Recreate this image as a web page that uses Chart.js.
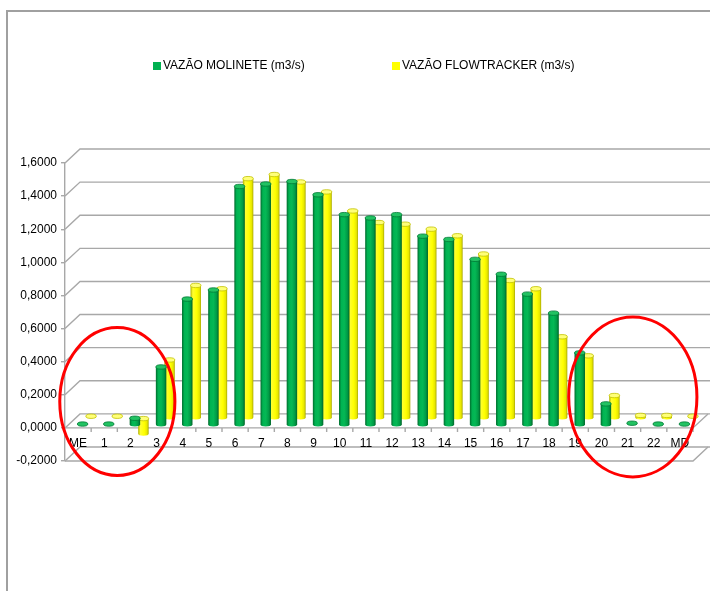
<!DOCTYPE html>
<html>
<head>
<meta charset="utf-8">
<script src="https://cdn.jsdelivr.net/npm/chart.js@4.4.1/dist/chart.umd.min.js"></script>
<style>
  html, body { margin: 0; padding: 0; background: #fff; }
  #wrap { width: 710px; height: 591px; position: relative; }
</style>
</head>
<body>
<div id="wrap"><canvas id="c" width="710" height="591"></canvas></div>
<script>
// Verticais de medição (margem esquerda, 1..22, margem direita)
const categories = ['ME','1','2','3','4','5','6','7','8','9','10','11','12','13','14','15','16','17','18','19','20','21','22','MD'];

// Vazão por vertical (m3/s)
const molinete    = [0.005, 0.005, 0.04, 0.35, 0.76, 0.815, 1.44, 1.455, 1.47, 1.39, 1.27, 1.25, 1.27, 1.14, 1.12, 1.0, 0.91, 0.79, 0.675, 0.435, 0.127, 0.01, 0.005, 0.005];
const flowtracker = [0.01, 0.01, -0.095, 0.35, 0.8, 0.78, 1.445, 1.47, 1.425, 1.365, 1.25, 1.18, 1.17, 1.14, 1.1, 0.99, 0.83, 0.78, 0.49, 0.375, 0.135, 0.015, 0.015, 0.01];

const seriesNames = ['VAZÃO MOLINETE (m3/s)', 'VAZÃO FLOWTRACKER (m3/s)'];
const yTickValues = [-0.2, 0, 0.2, 0.4, 0.6, 0.8, 1.0, 1.2, 1.4, 1.6];

// Regiões destacadas: [primeira vertical, última vertical, valor central, meia-altura em valor]
const highlightLeft  = { from: 1, to: 2, shift: 0,   rxCats: 2.2,  yMid: 0.16,  yHalf: 0.447 };
const highlightRight = { from: 21, to: 21, shift: 0.2, rxCats: 2.45, yMid: 0.187, yHalf: 0.483 };

// Perspectiva 3D
const DEPTH_X = 15, DEPTH_Y = -14;
const ROWS = [ { dx: 4.5, dy: -3 }, { dx: 13, dy: -10 } ];
const GRID = '#a8a8a8';

const PALETTE = [
  { stops: [[0,'#006a2c'],[0.22,'#00b352'],[0.5,'#05b855'],[0.8,'#009a45'],[1,'#006428']], cap: '#22c262', rim: '#007a36' },
  { stops: [[0,'#b0b000'],[0.22,'#ffff30'],[0.6,'#ffff00'],[0.85,'#e6e600'],[1,'#a8a800']], cap: '#ffff78', rim: '#c2c200' }
];

Chart.defaults.font.family = '"Liberation Sans", Arial, sans-serif';
Chart.defaults.font.size = 12;
Chart.defaults.color = '#000';

function drawCylinder(ctx, cx, top, bottom, w, pal) {
  const rx = w / 2, ry = 2.2;
  if (bottom - top > 1.2) {
    const g = ctx.createLinearGradient(cx - rx, 0, cx + rx, 0);
    pal.stops.forEach(s => g.addColorStop(s[0], s[1]));
    ctx.beginPath();
    ctx.moveTo(cx - rx, top);
    ctx.lineTo(cx - rx, bottom);
    ctx.ellipse(cx, bottom, rx, ry, 0, Math.PI, 0, true);
    ctx.lineTo(cx + rx, top);
    ctx.closePath();
    ctx.fillStyle = g;
    ctx.fill();
  }
  ctx.beginPath();
  ctx.ellipse(cx, top, rx, ry, 0, 0, Math.PI * 2);
  ctx.fillStyle = pal.cap;
  ctx.fill();
  ctx.lineWidth = 0.8;
  ctx.strokeStyle = pal.rim;
  ctx.stroke();
}

const frame3d = {
  id: 'frame3d',
  beforeDraw(chart) {
    const ctx = chart.ctx;
    ctx.save();
    ctx.fillStyle = '#fff';
    ctx.fillRect(0, 0, chart.width, chart.height);
    ctx.strokeStyle = '#a0a0a0';
    ctx.lineWidth = 2;
    ctx.beginPath();
    ctx.moveTo(chart.width, 11);
    ctx.lineTo(7, 11);
    ctx.lineTo(7, chart.height);
    ctx.stroke();

    // legenda
    const legendY = 66;
    const items = [{ x: 153, i: 0 }, { x: 392, i: 1 }];
    ctx.font = '12px "Liberation Sans", Arial, sans-serif';
    ctx.textBaseline = 'middle';
    ctx.textAlign = 'left';
    items.forEach(it => {
      ctx.fillStyle = it.i === 0 ? '#00b050' : '#ffff00';
      ctx.fillRect(it.x, legendY - 4, 8, 8);
      ctx.fillStyle = '#000';
      ctx.fillText(seriesNames[it.i], it.x + 10, legendY);
    });
    ctx.restore();
  },
  beforeDatasetsDraw(chart) {
    const { ctx, chartArea: { left, right }, scales: { x, y } } = chart;
    ctx.save();
    ctx.strokeStyle = GRID;
    ctx.lineWidth = 1.4;
    // linhas de grade na parede de fundo
    yTickValues.forEach(v => {
      const py = y.getPixelForValue(v);
      ctx.beginPath();
      ctx.moveTo(left, py);
      ctx.lineTo(left + DEPTH_X, py + DEPTH_Y);
      ctx.lineTo(chart.width, py + DEPTH_Y);
      ctx.stroke();
    });
    // plano do eixo das categorias (valor 0) e piso (-0,2)
    [0, -0.2].forEach(v => {
      const py = y.getPixelForValue(v);
      ctx.beginPath();
      ctx.moveTo(left, py);
      ctx.lineTo(right, py);
      ctx.lineTo(right + DEPTH_X, py + DEPTH_Y);
      ctx.stroke();
    });
    const y0 = y.getPixelForValue(0);
    const catW = (right - left) / categories.length;
    ctx.beginPath();
    for (let k = 1; k <= categories.length; k++) {
      const px = left + k * catW;
      ctx.moveTo(px, y0);
      ctx.lineTo(px, y0 + 4);
    }
    ctx.stroke();
    // rótulos das verticais
    ctx.fillStyle = '#000';
    ctx.font = '12px "Liberation Sans", Arial, sans-serif';
    ctx.textAlign = 'center';
    ctx.textBaseline = 'middle';
    categories.forEach((c, i) => ctx.fillText(c, x.getPixelForValue(i), y0 + 16));
    ctx.restore();
  },
  beforeDatasetDraw(chart, args) {
    const idx = args.index;
    const meta = args.meta;
    const ctx = chart.ctx;
    const row = ROWS[idx];
    ctx.save();
    ctx.translate(row.dx, row.dy);
    meta.data.forEach(bar => {
      const p = bar.getProps(['x', 'y', 'base', 'width'], true);
      const top = Math.min(p.y, p.base), bottom = Math.max(p.y, p.base);
      drawCylinder(ctx, p.x, top, bottom, p.width, PALETTE[idx]);
    });
    ctx.restore();
    return false;
  },
  afterDatasetsDraw(chart) {
    const { ctx, chartArea: { left, right }, scales: { x, y } } = chart;
    const catW = (right - left) / categories.length;
    ctx.save();
    ctx.strokeStyle = '#ff0000';
    ctx.lineWidth = 3;
    [highlightLeft, highlightRight].forEach(h => {
      const cx = (x.getPixelForValue(h.from) + x.getPixelForValue(h.to)) / 2 + h.shift * catW;
      const cy = y.getPixelForValue(h.yMid);
      const ry = y.getPixelForValue(h.yMid - h.yHalf) - cy;
      ctx.beginPath();
      ctx.ellipse(cx, cy, h.rxCats * catW, ry, 0, 0, Math.PI * 2);
      ctx.stroke();
    });
    ctx.restore();
  }
};

new Chart(document.getElementById('c'), {
  type: 'bar',
  data: {
    labels: categories,
    datasets: [
      { label: seriesNames[0], data: molinete, backgroundColor: '#00b050' },
      { label: seriesNames[1], data: flowtracker, backgroundColor: '#ffff00' }
    ]
  },
  options: {
    responsive: false,
    animation: false,
    devicePixelRatio: 1,
    layout: { padding: { top: 163, bottom: 130, left: 0, right: 17 } },
    datasets: { bar: { grouped: false, barPercentage: 0.4, categoryPercentage: 1 } },
    plugins: { legend: { display: false }, tooltip: { enabled: false } },
    scales: {
      x: { display: false, offset: true },
      y: {
        min: -0.2, max: 1.6,
        afterFit(scale) { scale.width = 65; },
        afterBuildTicks(scale) { scale.ticks = yTickValues.map(v => ({ value: v })); },
        ticks: {
          padding: 4,
          color: '#000',
          font: { size: 12 },
          callback: v => Number(v).toFixed(4).replace('.', ',')
        },
        grid: { drawOnChartArea: false, drawTicks: true, tickLength: 4, color: GRID, lineWidth: 1.4 },
        border: { display: true, color: GRID, width: 1.4 }
      }
    }
  },
  plugins: [frame3d]
});
</script>
</body>
</html>
